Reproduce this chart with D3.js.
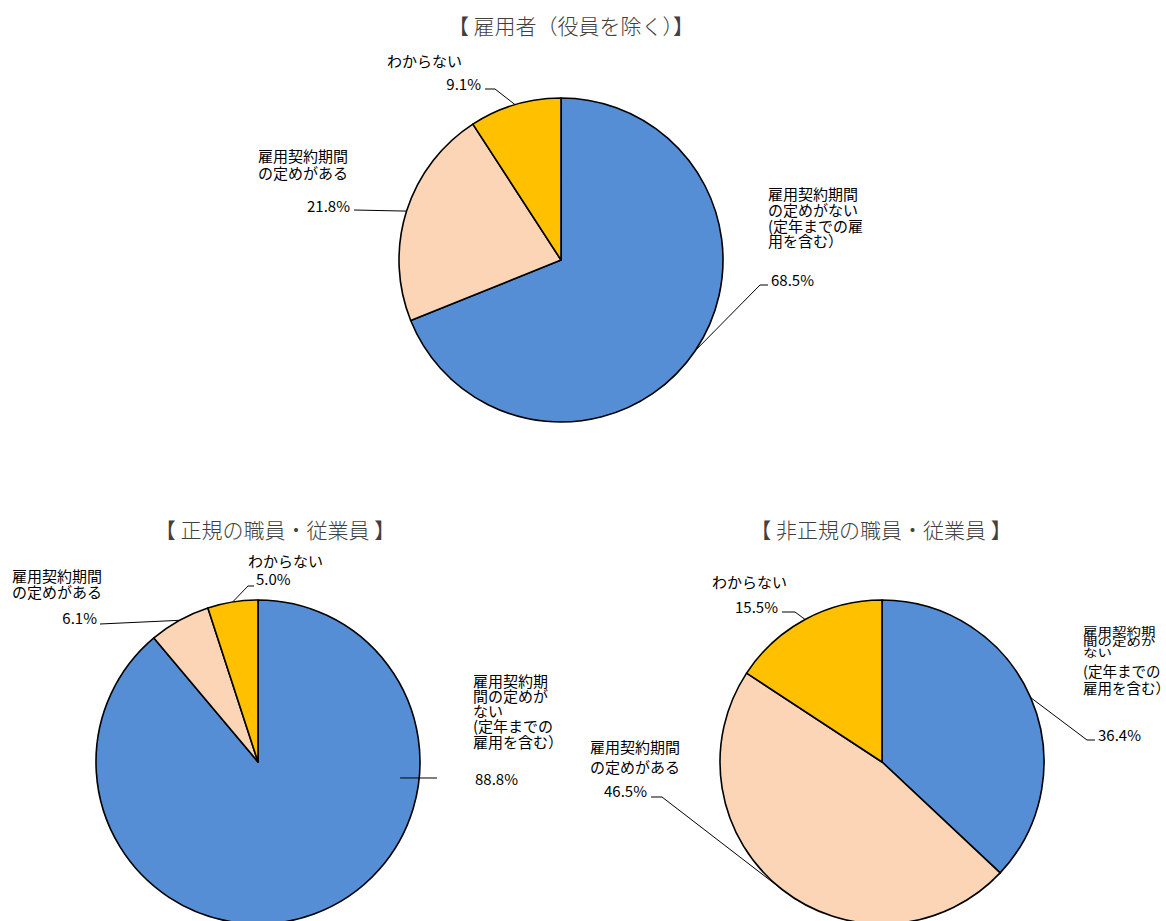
<!DOCTYPE html>
<html>
<head>
<meta charset="utf-8">
<script src="https://cdn.jsdelivr.net/npm/d3@7"></script>
<style>
  body { margin: 0; background: #fff; }
  text { font-family: "Noto Sans CJK JP", "Noto Sans", sans-serif; }
</style>
</head>
<body>
<svg id="chart" width="1166" height="921"></svg>
<script>
// Categories (clockwise from 12 o'clock) and shares in percent
const categories = ["雇用契約期間の定めがない（定年までの雇用を含む）", "雇用契約期間の定めがある", "わからない"];
const employeeValues = [68.5, 21.8, 9.1];     // 雇用者（役員を除く）
const regularValues = [88.8, 6.1, 5.0];       // 正規の職員・従業員
const nonRegularValues = [36.4, 46.5, 15.5];  // 非正規の職員・従業員
const chartTitles = ["【 雇用者（役員を除く）】", "【  正規の職員・従業員  】", "【  非正規の職員・従業員  】"];

// Category label text, broken into lines as drawn beside each pie
const labelLinesTop = [["雇用契約期間", "の定めがない", "(定年までの雇", "用を含む）"], ["雇用契約期間", "の定めがある"], ["わからない"]];
const labelLinesRegular = [["雇用契約期", "間の定めが", "ない", "(定年までの", "雇用を含む）"], ["雇用契約期間", "の定めがある"], ["わからない"]];
const labelLinesNonRegular = [["雇用契約期", "間の定めが", "ない", "(定年までの", "雇用を含む）"], ["雇用契約期間", "の定めがある"], ["わからない"]];

const colors = ["#558ED5", "#FBD5B5", "#FFC000"];
const radius = 162;
const fmt = v => d3.format(".1f")(v) + "%";

const svg = d3.select("#chart");

// Layout for each pie: centre, title baseline and label placement
const panels = [
  {
    values: employeeValues, title: chartTitles[0], lines: labelLinesTop,
    cx: 561, cy: 260, titleX: 571, titleY: 34,
    labels: [
      { tx: 768, ys: [200, 216, 232, 247], px: 771, py: 286, anchor: "start", path: [[760, 285], [768, 285]] },
      { tx: 258, ys: [162, 179], px: 350, py: 212, anchor: "end", path: [[354, 210]] },
      { tx: 387, ys: [67], px: 481, py: 90, anchor: "end", path: [[495, 89], [485, 89]] }
    ]
  },
  {
    values: regularValues, title: chartTitles[1], lines: labelLinesRegular,
    cx: 258, cy: 762, titleX: 275, titleY: 538,
    labels: [
      { tx: 473, ys: [687, 702, 717, 732, 748], px: 475, py: 785, anchor: "start",
        start: { angle: 96.4, r: 143 }, path: [[437, 778]] },
      { tx: 12, ys: [582, 598], px: 97, py: 624, anchor: "end", path: [[100, 624]] },
      { tx: 248, ys: [567], px: 256, py: 585, anchor: "start", path: [[248, 586], [254, 586]] }
    ]
  },
  {
    values: nonRegularValues, title: chartTitles[2], lines: labelLinesNonRegular,
    cx: 882, cy: 762, titleX: 881, titleY: 538,
    labels: [
      { tx: 1083, ys: [635.5, 646, 656.5, 676.5, 693.5], sy: [0.78, 0.78, 0.78, 1, 1], size: 14.5,
        px: 1098, py: 741, anchor: "start", path: [[1087, 740], [1095, 740]] },
      { tx: 590, ys: [753, 773], px: 647, py: 797, anchor: "end", path: [[662, 797], [651, 797]] },
      { tx: 712, ys: [588], px: 778, py: 613, anchor: "end", path: [[795, 612], [782, 612]] }
    ]
  }
];

const pie = d3.pie().sort(null).value(d => d);
const arc = d3.arc().innerRadius(0).outerRadius(radius);

panels.forEach(p => {
  const slices = pie(p.values);
  const g = svg.append("g");

  // Slices
  g.append("g")
    .attr("transform", `translate(${p.cx},${p.cy})`)
    .selectAll("path")
    .data(slices)
    .join("path")
    .attr("d", arc)
    .attr("fill", (d, i) => colors[i])
    .attr("stroke", "#000")
    .attr("stroke-width", 1.6)
    .attr("stroke-linejoin", "round");

  // Title
  g.append("text")
    .attr("x", p.titleX)
    .attr("y", p.titleY)
    .attr("text-anchor", "middle")
    .attr("font-family", "'Noto Serif CJK JP', 'Noto Sans CJK JP', serif")
    .attr("font-size", 21)
    .attr("font-weight", 300)
    .attr("fill", "#404040")
    .text(p.title);

  // Leader lines, category labels and percentages
  slices.forEach((s, i) => {
    const L = p.labels[i];
    let a, r;
    if (L.start) { a = L.start.angle * Math.PI / 180; r = L.start.r; }
    else { a = (s.startAngle + s.endAngle) / 2; r = radius; }
    const x0 = p.cx + r * Math.sin(a);
    const y0 = p.cy - r * Math.cos(a);
    const pts = [[x0, y0]].concat(L.path);
    g.append("path")
      .attr("d", d3.line()(pts))
      .attr("fill", "none")
      .attr("stroke", "#000")
      .attr("stroke-width", 1);

    p.lines[i].forEach((ln, j) => {
      const sy = L.sy ? L.sy[j] : 1;
      g.append("text")
        .attr("transform", `translate(${L.tx},${L.ys[j]}) scale(1,${sy})`)
        .attr("font-size", L.size || 15)
        .attr("fill", "#000")
        .text(ln);
    });

    g.append("text")
      .attr("x", L.px)
      .attr("y", L.py)
      .attr("text-anchor", L.anchor)
      .attr("font-size", 15)
      .attr("fill", "#000")
      .text(fmt(s.data));
  });
});
</script>
</body>
</html>
